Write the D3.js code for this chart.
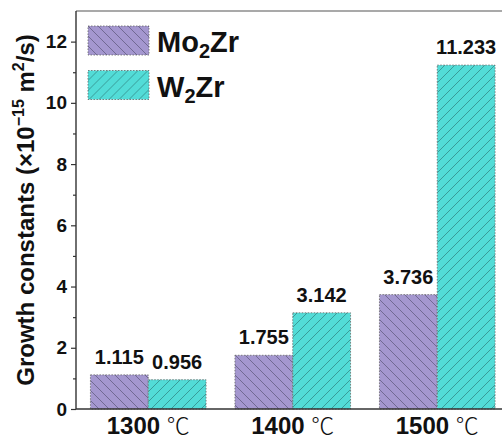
<!DOCTYPE html>
<meta charset="utf-8">
<head>
  <title>Growth constants</title>
</head>

<style>
body {
  margin: 0;
  background: #fff;
}
text {
  font-family: "Liberation Sans", Arial, sans-serif;
}
</style>

<body>
  <div id="content">
    <svg width="502" height="441"></svg>
  </div>

  <script src="https://cdnjs.cloudflare.com/ajax/libs/d3/7.8.5/d3.min.js"></script>

  <script>
var temps = ['1300', '1400', '1500'];
var series = ['Mo2Zr', 'W2Zr'];
var mo2zr = [1.115, 1.755, 3.736];
var w2zr = [0.956, 3.142, 11.233];
var yTicks = [0, 2, 4, 6, 8, 10, 12];

var colors = {Mo2Zr: '#a497cf', W2Zr: '#52dcd7'};
var hatchColor = {Mo2Zr: '#5a5478', W2Zr: '#2e7f7c'};

var svg = d3.select('#content svg');

var plotLeft = 76, plotTop = 11, plotBottom = 409, plotRight = 509.5;

var x = d3.scaleBand()
  .domain(temps)
  .range([plotLeft, plotRight])
  .paddingInner(0.2)
  .paddingOuter(0.1);

var xInner = d3.scaleBand()
  .domain(series)
  .range([0, x.bandwidth()]);

var y = d3.scaleLinear()
  .domain([0, 13])
  .range([plotBottom, plotTop]);

// hatch patterns
var defs = svg.append('defs');
function hatch(id, fill, stroke, dir) {
  var p = defs.append('pattern')
    .attr('id', id)
    .attr('patternUnits', 'userSpaceOnUse')
    .attr('width', 10)
    .attr('height', 10);
  p.append('rect').attr('width', 10).attr('height', 10).attr('fill', fill);
  var d = dir > 0 ? 'M-5,5 l10,-10 M0,10 l10,-10 M5,15 l10,-10'
                  : 'M-5,5 l10,10 M0,0 l10,10 M5,-5 l10,10';
  p.append('path').attr('d', d)
    .attr('stroke', stroke)
    .attr('stroke-width', 0.7);
}
hatch('hatch-Mo2Zr', colors.Mo2Zr, hatchColor.Mo2Zr, -1);
hatch('hatch-W2Zr', colors.W2Zr, hatchColor.W2Zr, 1);

var data = [];
temps.forEach(function(t, i) {
  data.push({t: t, s: 'Mo2Zr', v: mo2zr[i]});
  data.push({t: t, s: 'W2Zr', v: w2zr[i]});
});

// bars
svg.append('g').selectAll('rect')
  .data(data)
  .enter().append('rect')
  .attr('x', function(d) { return x(d.t) + xInner(d.s); })
  .attr('y', function(d) { return y(d.v); })
  .attr('width', xInner.bandwidth())
  .attr('height', function(d) { return y(0) - y(d.v); })
  .attr('fill', function(d) { return 'url(#hatch-' + d.s + ')'; })
  .attr('stroke', '#666')
  .attr('stroke-width', 0.8)
  .attr('stroke-dasharray', '1.5,1.5');

// value labels
svg.append('g').selectAll('text')
  .data(data)
  .enter().append('text')
  .attr('x', function(d) { return x(d.t) + xInner(d.s) + xInner.bandwidth() / 2; })
  .attr('y', function(d) { return y(d.v) - 11; })
  .attr('text-anchor', 'middle')
  .attr('font-size', 20)
  .attr('font-weight', 'bold')
  .attr('fill', '#111')
  .text(function(d) { return d.v.toFixed(3); });

// frame top
svg.append('line')
  .attr('x1', plotLeft).attr('x2', 502)
  .attr('y1', plotTop).attr('y2', plotTop)
  .attr('stroke', '#555').attr('stroke-width', 1.2);

// y axis
var yAxis = svg.append('g')
  .attr('transform', 'translate(' + plotLeft + ',0)')
  .call(d3.axisLeft(y).tickValues(yTicks).tickSize(5).tickPadding(4).tickFormat(d3.format('d')));
yAxis.select('.domain').remove();
yAxis.selectAll('.tick line').attr('stroke', '#333').attr('stroke-width', 1.2);
yAxis.selectAll('.tick text')
  .attr('font-size', 19)
  .attr('font-weight', 'bold')
  .attr('font-family', '"Liberation Sans", Arial, sans-serif')
  .attr('fill', '#111');

var yMinor = svg.append('g')
  .attr('transform', 'translate(' + plotLeft + ',0)')
  .call(d3.axisLeft(y).tickValues([1, 3, 5, 7, 9, 11]).tickSize(3).tickFormat(''));
yMinor.select('.domain').remove();
yMinor.selectAll('.tick line').attr('stroke', '#333').attr('stroke-width', 1.2);

svg.append('line')
  .attr('x1', plotLeft).attr('x2', plotLeft)
  .attr('y1', plotTop).attr('y2', plotBottom)
  .attr('stroke', '#333').attr('stroke-width', 1.4);

// x axis
svg.append('line')
  .attr('x1', plotLeft).attr('x2', 502)
  .attr('y1', plotBottom).attr('y2', plotBottom)
  .attr('stroke', '#333').attr('stroke-width', 1.4);

var xl = svg.append('g').selectAll('text')
  .data(temps)
  .enter().append('text')
  .attr('x', function(d) { return x(d) + x.bandwidth() / 2; })
  .attr('y', 434)
  .attr('text-anchor', 'middle')
  .attr('fill', '#111');
xl.append('tspan')
  .attr('font-size', 24)
  .attr('font-weight', 'bold')
  .text(function(d) { return d + ' '; });
xl.append('tspan')
  .attr('font-size', 23)
  .attr('font-family', '"Noto Sans CJK SC", sans-serif')
  .attr('font-weight', 300)
  .text('\u2103');

// y title
var yt = svg.append('text')
  .attr('transform', 'translate(34,' + 210 + ') rotate(-90)')
  .attr('text-anchor', 'middle')
  .attr('font-size', 24)
  .attr('font-weight', 'bold')
  .attr('fill', '#111');
yt.append('tspan').text('Growth constants (\u00d710');
yt.append('tspan').attr('font-size', 16).attr('dy', -10).text('\u221215');
yt.append('tspan').attr('dy', 10).text(' m');
yt.append('tspan').attr('font-size', 16).attr('dy', -10).text('2');
yt.append('tspan').attr('dy', 10).text('/s)');

// legend
var legend = svg.append('g').selectAll('g')
  .data(series)
  .enter().append('g')
  .attr('transform', function(d, i) { return 'translate(88,' + (26 + i * 44.5) + ')'; });
legend.append('rect')
  .attr('width', 61)
  .attr('height', 29)
  .attr('fill', function(d) { return 'url(#hatch-' + d + ')'; })
  .attr('stroke', '#666')
  .attr('stroke-width', 0.8)
  .attr('stroke-dasharray', '1.5,1.5');
var lt = legend.append('text')
  .attr('x', 69)
  .attr('y', 26)
  .attr('font-size', 29)
  .attr('font-weight', 'bold')
  .attr('fill', '#111');
lt.append('tspan').text(function(d) { return d.slice(0, d.indexOf('2')); });
lt.append('tspan').attr('font-size', 20).attr('dy', 6).text('2');
lt.append('tspan').attr('dy', -6).text('Zr');
  </script>
</body>
</html>
